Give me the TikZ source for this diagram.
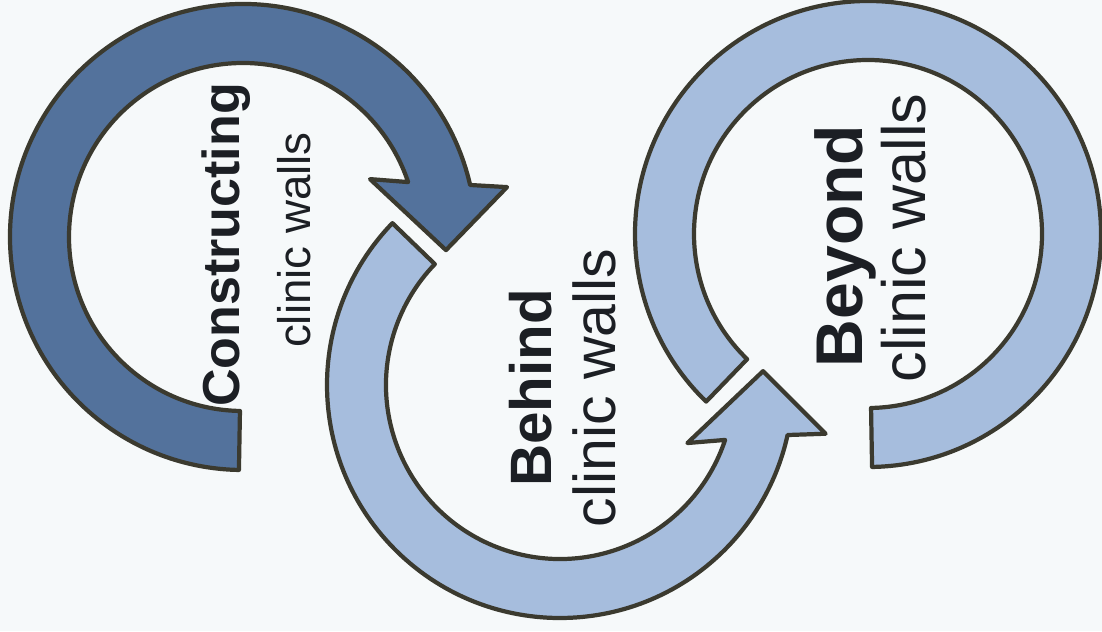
\documentclass[tikz,border=0pt]{standalone}
\usepackage{fontspec}
\setmainfont{Liberation Sans}
\definecolor{bgc}{HTML}{F6F9FA}
\definecolor{outl}{HTML}{3B3A2F}
\definecolor{darkfill}{HTML}{53729C}
\definecolor{lightfill}{HTML}{A6BDDD}
\definecolor{txt}{HTML}{1C1F24}
\begin{document}
\begin{tikzpicture}[x=0.025cm,y=0.025cm,
  band/.style={draw=outl, line width=3pt, line join=round},
  lbl/.style={rotate=90, anchor=base, text=txt, inner sep=0pt}]
\useasboundingbox (0,0) rectangle (1102,631);
\fill[bgc] (0,0) rectangle (1102,631);
% left arrow (Constructing)
\begin{scope}[shift={(243,394)}]
\draw[band, fill=darkfill] (12.9:233) arc[start angle=12.9, end angle=269, radius=233]
  -- (269:174) arc[start angle=269, end angle=18.4, radius=174]
  -- (24.5:139.6) -- (-3.7:203.4) -- (10.7:268.7) -- cycle;
\end{scope}
% middle arrow (Behind)
\begin{scope}[shift={(560,246)}]
\draw[band, fill=lightfill] (136:233) arc[start angle=136, end angle=347.6, radius=233]
  -- (349.6:270) -- (3.9:203.5) -- (335.5:140) -- (341.6:174)
  arc[start angle=341.6, end angle=136, radius=174] -- cycle;
\end{scope}
% right ring (Beyond)
\begin{scope}[shift={(868,397)}]
\draw[band, fill=lightfill] (-89:233) arc[start angle=-89, end angle=226, radius=233]
  -- (226:174) arc[start angle=226, end angle=-89, radius=174] -- cycle;
\end{scope}
% labels
\node[lbl, font=\fontsize{37}{40}\selectfont\bfseries] (t1) at (239,386) {Constructing};
\node[lbl, font=\fontsize{32.5}{36}\selectfont] (s1) at (310,391) {clinic walls};
\node[lbl, font=\fontsize{41.5}{45}\selectfont\bfseries] (t2) at (551,243) {Behind};
\node[lbl, font=\fontsize{42}{45}\selectfont] (s2) at (615,243) {clinic walls};
\node[lbl, font=\fontsize{47}{50}\selectfont\bfseries] (t3) at (862,385) {Beyond};
\node[lbl, font=\fontsize{43.5}{47}\selectfont] (s3) at (925,393) {clinic walls};
\end{tikzpicture}
\end{document}
